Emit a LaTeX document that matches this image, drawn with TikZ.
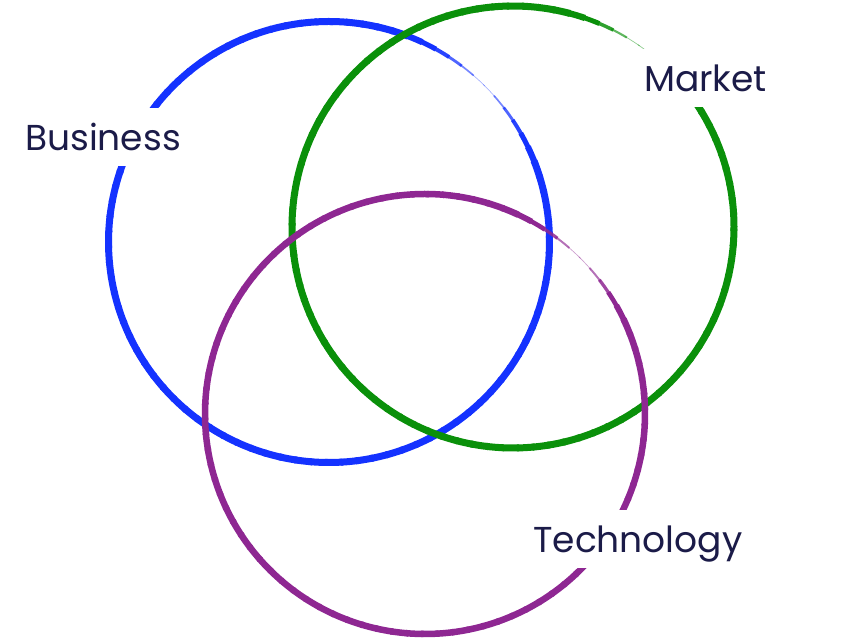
\documentclass[tikz,border=0pt]{standalone}
\usepackage{fontspec}
\setmainfont{Poppins}
\usepackage{tikz}
\usetikzlibrary{
  calc,
}
\definecolor{bizBlue}{HTML}{1432FF}
\definecolor{mktGreen}{HTML}{0A900A}
\definecolor{techPurple}{HTML}{8E2792}
\definecolor{labelInk}{HTML}{1B1B48}
\tikzset{
  ringlabel/.style={
    rectangle, fill=white, text=labelInk, inner xsep=4pt, inner ysep=3pt,
    text height=40pt, text depth=12pt, anchor=base west,
    font=\fontsize{36}{40}\selectfont,
  },
}
% brush-like ring: centre, radius, colour, width, gap angle, taper
\newcommand{\brushring}[6]{%
  \foreach \a in {0,4,...,356}{
    \pgfmathsetmacro\bw{#4*min(1,(\a+2)/#6,(358-\a)/#6)}
    \pgfmathsetmacro\bo{min(1,0.35+\bw/#4)}
    \draw[#3, line width=\bw pt, draw opacity=\bo]
      ($(#1)+(#5+\a:#2)$) arc[start angle=#5+\a, end angle=#5+\a+4.6, radius=#2];
  }%
}

\begin{document}
\begin{tikzpicture}[x=1pt, y=1pt]
\useasboundingbox (0,0) rectangle (849,639);

\coordinate (bizC)  at (329,397);
\coordinate (mktC)  at (513,412);
\coordinate (techC) at (425,225);

% Rings
\brushring{bizC}{220.5}{bizBlue}{7}{45}{25}
\brushring{mktC}{221}{mktGreen}{7}{55}{20}
\brushring{techC}{220}{techPurple}{6.5}{45}{20}

% Labels
\node[ringlabel] (bizLabel)  at (21,488)  {Business};
\node[ringlabel] (mktLabel)  at (640,547) {Market};
\node[ringlabel] (techLabel) at (529,86)  {Technology};

\end{tikzpicture}
\end{document}
